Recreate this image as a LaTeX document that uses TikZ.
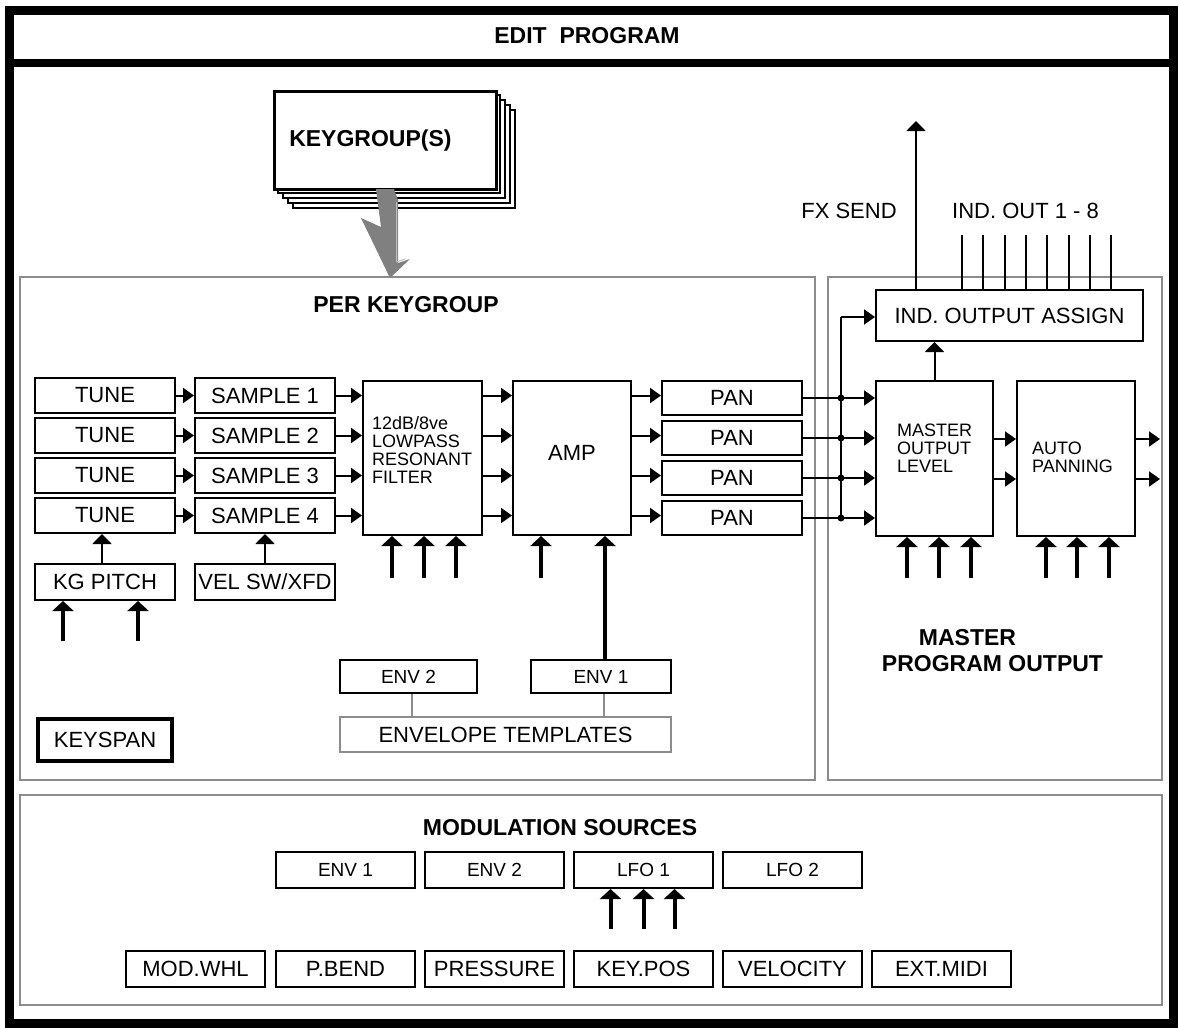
\documentclass[tikz,border=0pt]{standalone}
\usepackage{fontspec}
\setmainfont{Liberation Sans}
\usetikzlibrary{arrows.meta}
\definecolor{grayline}{RGB}{140,140,140}
\definecolor{arrowgray}{RGB}{128,128,128}
\definecolor{lightgray2}{RGB}{190,190,190}
\tikzset{
 blk/.style={draw=black, line width=2pt, fill=white, inner sep=0pt, font=\fontsize{22}{24}\selectfont},
 grp/.style={draw=grayline, line width=2pt},
 thinarr/.style={line width=2pt, -{Triangle[length=11pt,width=15pt]}},
 upthin/.style={line width=2pt, -{Triangle[length=10pt,width=19pt]}},
 modarr/.style={line width=4pt, -{Triangle[length=10pt,width=21pt]}},
 wire/.style={line width=2pt},
 graywire/.style={draw=grayline, line width=2pt},
 jdot/.style={circle, fill=black, inner sep=0pt, minimum size=7pt},
 ttl/.style={font=\bfseries\fontsize{23}{26}\selectfont, inner sep=0pt},
 lbl/.style={font=\fontsize{22}{24}\selectfont, inner sep=0pt},
 multi/.style={font=\fontsize{18}{18}\selectfont, align=left, inner sep=0pt},
}
\begin{document}
\begin{tikzpicture}[x=1pt,y=-1pt]
\useasboundingbox (0,0) rectangle (1179,1028);
\fill[white] (0,0) rectangle (1179,1028);

% group boxes
\draw[grp] (20,277) rectangle (815,780);
\draw[grp] (828,277) rectangle (1162,780);
\draw[grp] (20,795) rectangle (1162,1005);

% outer frame and title
\draw[line width=9pt] (9,10) rectangle (1173,1023);
\draw[line width=8pt] (5,63) -- (1177,63);
\node[ttl] (title) at (587,36) {EDIT\ \ PROGRAM};

% keygroup stack
\foreach \k in {4,3,2,1}
  \draw[line width=2pt, fill=white] (273+5*\k,90+5*\k) rectangle (495+5*\k,188+5*\k);
\node[blk, line width=2.5pt, anchor=north west, minimum width=222pt, minimum height=98pt,
      text width=192pt, inner xsep=15pt, align=left, font=\bfseries\fontsize{23}{26}\selectfont]
      (kg) at (273,90) {KEYGROUP(S)};
\fill[arrowgray] (376,189) -- (394,189) -- (398,200) -- (398,263) -- (410,259) -- (390,278)
   -- (361,218) -- (381,227) -- cycle;
\draw[lightgray2, line width=1pt] (396.5,202) -- (396.5,262) -- (405,259);

% labels of groups
\node[ttl] (perkg) at (406,305) {PER KEYGROUP};
\node[ttl] (mpo1) at (967.5,638) {MASTER};
\node[ttl] (mpo2) at (992.5,664) {PROGRAM OUTPUT};
\node[ttl] (modsrc) at (560,828) {MODULATION SOURCES};

% tune / sample rows
\foreach \i/\y in {1/395.5,2/435.5,3/475.5,4/515.5} {
  \node[blk, minimum width=140pt, minimum height=35pt] (tune\i) at (105,\y) {TUNE};
  \node[blk, minimum width=140pt, minimum height=35pt] (samp\i) at (265,\y) {SAMPLE \i};
  \draw[thinarr] (tune\i) -- (samp\i);
}

% filter and amp
\node[blk, minimum width=119pt, minimum height=154pt] (filt) at (422.5,458) {};
\node[multi, anchor=north west] (filttxt) at (372,416) {12dB/8ve\\LOWPASS\\RESONANT\\FILTER};
\node[blk, minimum width=118pt, minimum height=154pt,
      label={[lbl, yshift=5pt]center:AMP}] (amp) at (572,458) {};

% pan boxes
\foreach \i/\y in {1/398,2/438,3/478,4/518}
  \node[blk, minimum width=140pt, minimum height=34pt] (pan\i) at (732,\y) {PAN};

\foreach \i in {1,...,4} {
  \draw[thinarr] (samp\i.east) -- (samp\i.east -| filt.west);
  \draw[thinarr] (samp\i.east -| filt.east) -- (samp\i.east -| amp.west);
  \draw[thinarr] (samp\i.east -| amp.east) -- (samp\i.east -| pan\i.west);
}

% keygroup pitch and velocity
\node[blk, minimum width=140pt, minimum height=36pt] (kgp) at (105,582) {KG PITCH};
\node[blk, minimum width=140pt, minimum height=36pt] (velsw) at (265,582) {VEL SW/XFD};
\draw[upthin] ([xshift=-3pt]kgp.north) -- ([xshift=-3pt]tune4.south);
\draw[upthin] (velsw.north) -- (samp4.south);
\foreach \dx in {-42,33}
  \draw[modarr] ([xshift=\dx pt,yshift=-40pt]kgp.south) -- ([xshift=\dx pt]kgp.south);

% modulation arrows into filter and amp
\foreach \dx in {-30.5,1.5,33.5}
  \draw[modarr] ([xshift=\dx pt,yshift=-42pt]filt.south) -- ([xshift=\dx pt]filt.south);
\draw[modarr] ([xshift=-31pt,yshift=-42pt]amp.south) -- ([xshift=-31pt]amp.south);

% envelopes
\node[blk, font=\fontsize{19}{20}\selectfont, minimum width=137pt, minimum height=33pt] (env2k) at (408.5,676.5) {ENV 2};
\node[blk, font=\fontsize{19}{20}\selectfont, minimum width=140pt, minimum height=33pt] (env1k) at (601,676.5) {ENV 1};
\node[blk, draw=grayline, minimum width=331pt, minimum height=35pt] (envt) at (505.5,734.5) {ENVELOPE TEMPLATES};
\draw[graywire] ([xshift=3.5pt]env2k.south) -- ([xshift=3.5pt]env2k.south |- envt.north);
\draw[graywire] ([xshift=3pt]env1k.south) -- ([xshift=3pt]env1k.south |- envt.north);
\coordinate (cAmp) at ([xshift=33pt]amp.south);
\draw[modarr] (env1k.north -| cAmp) -- (cAmp);

\node[blk, line width=4.5pt, minimum width=134pt, minimum height=42pt] (keyspan) at (105,740) {KEYSPAN};

% master section
\node[blk, minimum width=267pt, minimum height=51pt] (ioa) at (1009.5,315.5) {IND. OUTPUT ASSIGN};
\node[blk, minimum width=117pt, minimum height=155pt] (mol) at (934.5,458.5) {};
\node[multi, anchor=north west] (moltxt) at (897,423.5) {MASTER\\OUTPUT\\LEVEL};
\node[blk, minimum width=118pt, minimum height=155pt] (auto) at (1076,458.5) {};
\node[multi, anchor=north west] (autotxt) at (1032,441.5) {AUTO\\PANNING};

\coordinate (busx) at (841,0);
\coordinate (bustop) at (841,317);
\draw[wire] (pan4.east -| busx) -- (bustop);
\draw[thinarr] (bustop) -- (bustop -| ioa.west);
\foreach \i in {1,...,4} {
  \draw[thinarr] (pan\i.east) -- (pan\i.east -| mol.west);
  \node[jdot] (j\i) at (pan\i.east -| busx) {};
}
\draw[upthin] (mol.north) -- (mol.north |- ioa.south);

\coordinate (fxtop) at (916,121);
\draw[upthin] (fxtop |- ioa.north) -- (fxtop);
\node[lbl] (fxsend) at (849,211) {FX SEND};
\node[lbl] (indout) at (1025.5,211) {IND. OUT 1 - 8};
\foreach \x in {962,983.3,1004.6,1026,1047.3,1068.6,1090,1111.3}
  \draw[wire] (\x,0 |- ioa.north) -- (\x,235);

\foreach \y/\n in {439/1,479/2} {
  \coordinate (out\n) at (1160,\y);
  \draw[thinarr] (mol.east |- out\n) -- (auto.west |- out\n);
  \draw[thinarr] (auto.east |- out\n) -- (out\n);
}
\foreach \dx in {-27.5,4.5,36.5}
  \draw[modarr] ([xshift=\dx pt,yshift=-41pt]mol.south) -- ([xshift=\dx pt]mol.south);
\foreach \dx in {-30,1,33}
  \draw[modarr] ([xshift=\dx pt,yshift=-41pt]auto.south) -- ([xshift=\dx pt]auto.south);

% modulation sources
\foreach \n/\x/\t in {envm1/345.5/ENV 1, envm2/494.5/ENV 2, lfo1/643.5/LFO 1, lfo2/792.5/LFO 2}
  \node[blk, font=\fontsize{19}{20}\selectfont, minimum width=139pt, minimum height=36pt] (\n) at (\x,870) {\t};
\foreach \dx in {-33,0,31}
  \draw[modarr] ([xshift=\dx pt,yshift=-40pt]lfo1.south) -- ([xshift=\dx pt]lfo1.south);
\foreach \n/\x/\t in {modwhl/195.5/MOD.WHL, pbend/345.5/P.BEND, press/494.5/PRESSURE, keypos/643.5/KEY.POS, vel/792.5/VELOCITY, extmidi/941.5/EXT.MIDI}
  \node[blk, minimum width=139pt, minimum height=36pt] (\n) at (\x,969) {\t};
\end{tikzpicture}
\end{document}
